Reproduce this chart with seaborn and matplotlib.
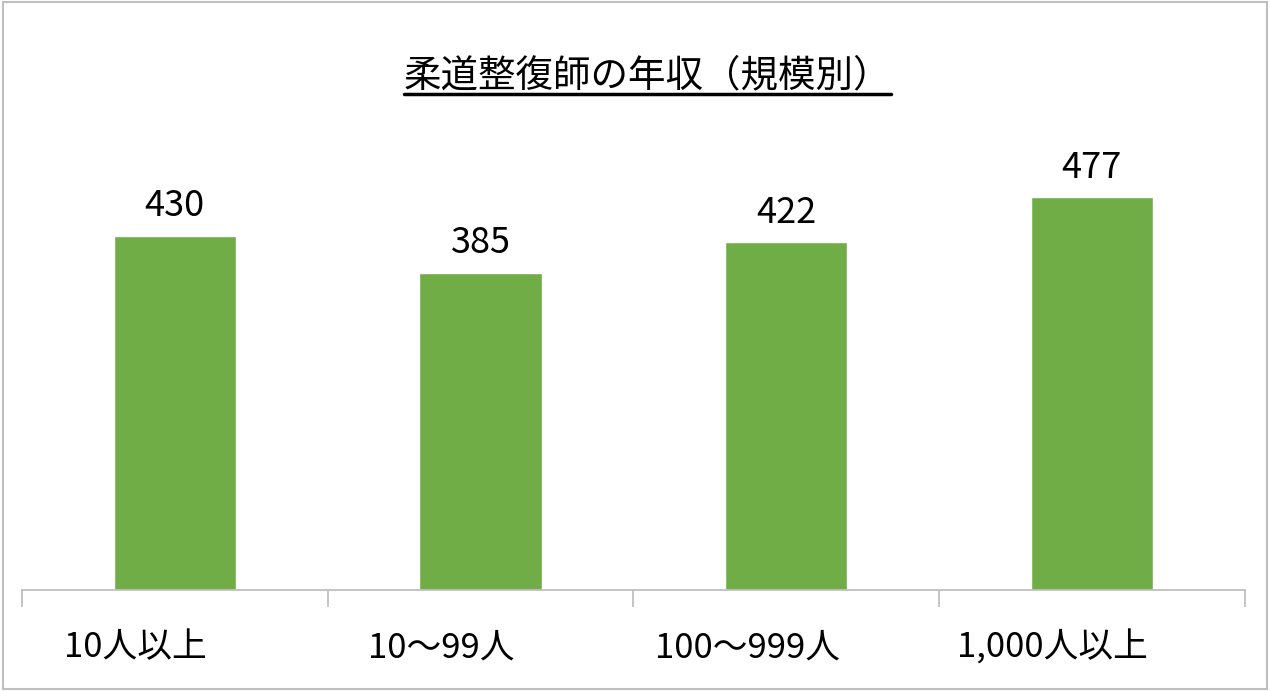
import numpy as np
import pandas as pd
import seaborn as sns
import matplotlib.pyplot as plt
import matplotlib.transforms as mtransforms
from matplotlib.lines import Line2D
from matplotlib.patches import Rectangle

categories = ["10人以上", "10～99人", "100～999人", "1,000人以上"]
salary = [430, 385, 422, 477]
title = "柔道整復師の年収（規模別）"

sns.set_theme(style="white")
plt.rcParams['font.family'] = ['Noto Sans CJK JP', 'DejaVu Sans']

df = pd.DataFrame({"size": categories, "salary": salary})

fig = plt.figure(figsize=(12.7, 6.91), dpi=100)
ax = fig.add_axes([0.0173, 0.1462, 0.9627, 0.715])

sns.barplot(data=df, x="size", y="salary", color="#70AD47", width=0.4,
            saturation=1, ax=ax)

ax.set_ylim(0, 600)
ax.set_xlim(-0.5, len(categories) - 0.5)
ax.set_xlabel("")
ax.set_ylabel("")
ax.set_yticks([])
for s in ["top", "left", "right"]:
    ax.spines[s].set_visible(False)
ax.spines["bottom"].set_color("#bfbfbf")
ax.spines["bottom"].set_linewidth(1.3)

# tick marks between categories
ax.set_xticks(np.arange(-0.5, len(categories)), minor=True)
ax.tick_params(axis="x", which="minor", length=12, width=1.3, color="#bfbfbf",
               bottom=True)
ax.tick_params(axis="x", which="major", length=0, labelsize=25, pad=29,
               labelcolor="black")

# category labels sit a little left of the bar centres in the original
shift = mtransforms.ScaledTranslation(-0.39, 0, fig.dpi_scale_trans)
for lab in ax.get_xticklabels():
    lab.set_transform(lab.get_transform() + shift)

for i, v in enumerate(salary):
    ax.text(i, v + 14, str(v), ha="center", va="bottom", fontsize=26,
            color="black")

t = fig.text(0.51, 0.862, title, ha="center", va="bottom", fontsize=27,
             color="black")
fig.canvas.draw()
bb = t.get_window_extent().transformed(fig.transFigure.inverted())
fig.add_artist(Line2D([bb.x0, bb.x1], [bb.y0 + 0.002, bb.y0 + 0.002],
                      transform=fig.transFigure, color="black", lw=2.5))

fig.add_artist(Rectangle((0.002, 0.003), 0.996, 0.994, transform=fig.transFigure,
                         fill=False, edgecolor="#bfbfbf", lw=1.5))

fig.savefig("out.png", dpi=100)
